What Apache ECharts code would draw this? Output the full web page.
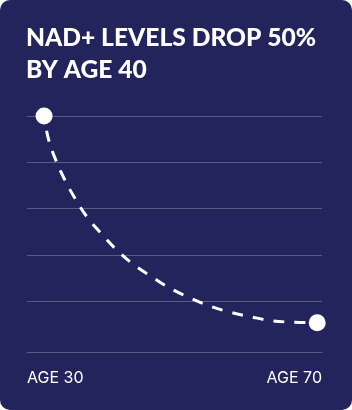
<!DOCTYPE html>
<html>
<head>
<meta charset="utf-8">
<script src="https://cdn.jsdelivr.net/npm/echarts@6/dist/echarts.min.js"></script>
<style>
  html, body { margin: 0; padding: 0; background: #ffffff; }
  #card { width: 352px; height: 410px; background: #23245c; border-radius: 10px; overflow: hidden; }
  #chart { width: 352px; height: 410px; }
</style>
</head>
<body>
<div id="card"><div id="chart"></div></div>
<script>
// Ages (x) and relative NAD+ level (y, %)
const ages   = [30, 30.6, 31.6, 32.9, 34.5, 36.3, 38.3, 40.5, 43, 45.8, 48.4, 51.4, 54.3, 57.2, 60.4, 63.5, 66.7, 70];
const levels = [100, 90.5, 81.8, 73.2, 64.5, 56.3, 49.4, 42.5, 36.0, 30.4, 25.6, 21.3, 17.8, 15.2, 13.1, 11.4, 10.8, 10.6];
const tickLabels = ['AGE 30', 'AGE 70'];
const titleLines = ['NAD+ LEVELS DROP 50%', 'BY AGE 40'];

const xMin = 27.5, xMax = 70.7;

const seriesData = ages.map((a, i) => {
  const endPoint = (i === 0 || i === ages.length - 1);
  return { value: [a, levels[i]], symbol: endPoint ? 'circle' : 'none' };
});

const chart = echarts.init(document.getElementById('chart'), null, { renderer: 'canvas' });
chart.setOption({
  backgroundColor: 'transparent',
  animation: false,
  title: {
    text: titleLines.join('\n'),
    left: 21,
    top: 17,
    textStyle: {
      color: '#ffffff',
      fontFamily: 'Lato',
      fontWeight: 900,
      fontSize: 24.6,
      lineHeight: 32
    }
  },
  grid: { left: 27, right: 30, top: 116, bottom: 109 },
  xAxis: {
    type: 'value',
    min: xMin,
    max: xMax,
    interval: xMax - xMin,
    offset: 51,
    axisLine: { show: true, onZero: false, lineStyle: { color: 'rgba(255,255,255,0.25)', width: 1 } },
    axisTick: { show: false },
    splitLine: { show: false },
    axisLabel: {
      show: true,
      margin: 18,
      color: '#ffffff',
      fontFamily: 'Inter',
      fontSize: 16,
      alignMinLabel: 'left',
      alignMaxLabel: 'right',
      formatter: (v, idx) => tickLabels[idx] || ''
    }
  },
  yAxis: {
    type: 'value',
    min: 20,
    max: 100,
    interval: 20,
    axisLine: { show: false },
    axisTick: { show: false },
    axisLabel: { show: false },
    splitLine: { show: true, lineStyle: { color: 'rgba(255,255,255,0.25)', width: 1 } }
  },
  series: [{
    type: 'line',
    data: seriesData,
    smooth: 0.4,
    clip: false,
    symbolSize: 17,
    itemStyle: { color: '#ffffff', borderWidth: 0 },
    lineStyle: { color: '#ffffff', width: 3, type: [11, 10], dashOffset: 6, cap: 'butt' },
    z: 3
  }]
});
</script>
</body>
</html>
